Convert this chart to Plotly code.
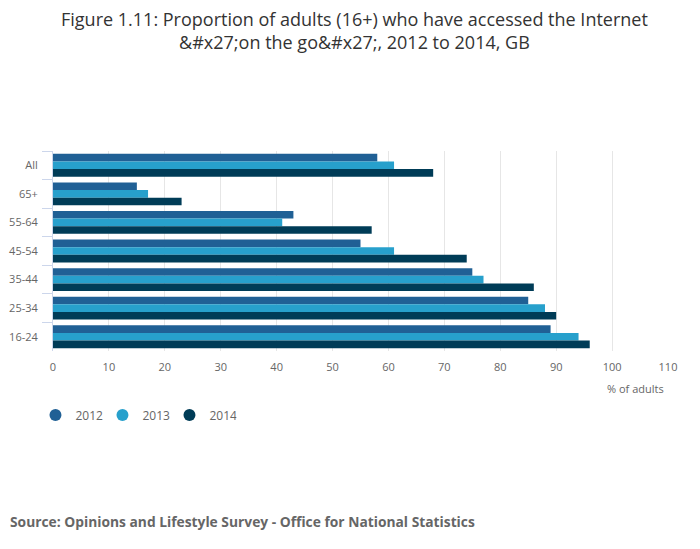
import plotly.graph_objects as go

categories = ["All", "65+", "55-64", "45-54", "35-44", "25-34", "16-24"]
years = ["2012", "2013", "2014"]
values_2012 = [58, 15, 43, 55, 75, 85, 89]
values_2013 = [61, 17, 41, 61, 77, 88, 94]
values_2014 = [68, 23, 57, 74, 86, 90, 96]
colors = ["#206095", "#27a0cc", "#003c57"]
x_ticks = [0, 10, 20, 30, 40, 50, 60, 70, 80, 90, 100, 110]
title_text = ("Figure 1.11: Proportion of adults (16+) who have accessed the Internet<br>"
              "&amp;#x27;on the go&amp;#x27;, 2012 to 2014, GB")

series = [values_2012, values_2013, values_2014]
FONT = "Open Sans"

W, H = 692, 541
L, T, PW, PH = 45, 143, 615, 200

fig = go.Figure()
for name, vals, col in zip(years, series, colors):
    fig.add_trace(go.Bar(
        x=vals, y=categories, orientation="h", name=name,
        marker=dict(color=col, line=dict(width=0)),
        showlegend=False,
    ))
for name, col in zip(years, colors):
    fig.add_trace(go.Scatter(
        x=[None], y=[None], mode="markers", name=name,
        marker=dict(color=col, size=13, symbol="circle"),
        showlegend=True,
    ))

fig.update_layout(
    width=W, height=H,
    paper_bgcolor="white", plot_bgcolor="white",
    font=dict(family=FONT, color="#666666", size=11),
    margin=dict(l=L, r=W - L - PW, t=T, b=H - T - PH, autoexpand=False),
    barmode="group", bargap=0.2, bargroupgap=0,
    xaxis=dict(
        range=[0, 110], tickvals=x_ticks, showgrid=True, gridcolor="#e6e6e6",
        gridwidth=1, zeroline=False, showline=False, ticks="",
        tickfont=dict(size=11, color="#666666"), ticklabelstandoff=8,
    ),
    yaxis=dict(
        categoryorder="array", categoryarray=categories, autorange="reversed",
        showline=True, linecolor="#ccd6eb", linewidth=1,
        ticks="outside", tickson="boundaries", ticklen=10, tickcolor="#ccd6eb",
        showgrid=False, tickfont=dict(size=11, color="#666666"),
        ticklabelstandoff=12,
    ),
    legend=dict(
        orientation="h", x=-0.0285, xanchor="left", y=-0.32, yanchor="middle",
        font=dict(size=12, color="#666666"), itemsizing="constant",
        bgcolor="rgba(0,0,0,0)", entrywidth=22, entrywidthmode="pixels",
    ),
    annotations=[
        dict(text=title_text, xref="paper", yref="paper", x=0.5 + (W / 2 - L - PW / 2) / PW,
             y=(T + PH - 23) / PH, xanchor="center", yanchor="middle", showarrow=False,
             align="center", font=dict(family=FONT, size=18, color="#333333")),
        dict(text="% of adults", xref="paper", yref="paper", x=1.0 - 2 / PW, y=-0.185,
             xanchor="right", yanchor="middle", showarrow=False,
             font=dict(size=11, color="#666666")),
        dict(text="<b>Source: Opinions and Lifestyle Survey - Office for National Statistics</b>",
             xref="paper", yref="paper", x=-L / PW, y=-170 / PH,
             xanchor="left", yanchor="middle", showarrow=False,
             font=dict(size=13.8, color="#666666")),
    ],
)

fig.write_html("out.html")
